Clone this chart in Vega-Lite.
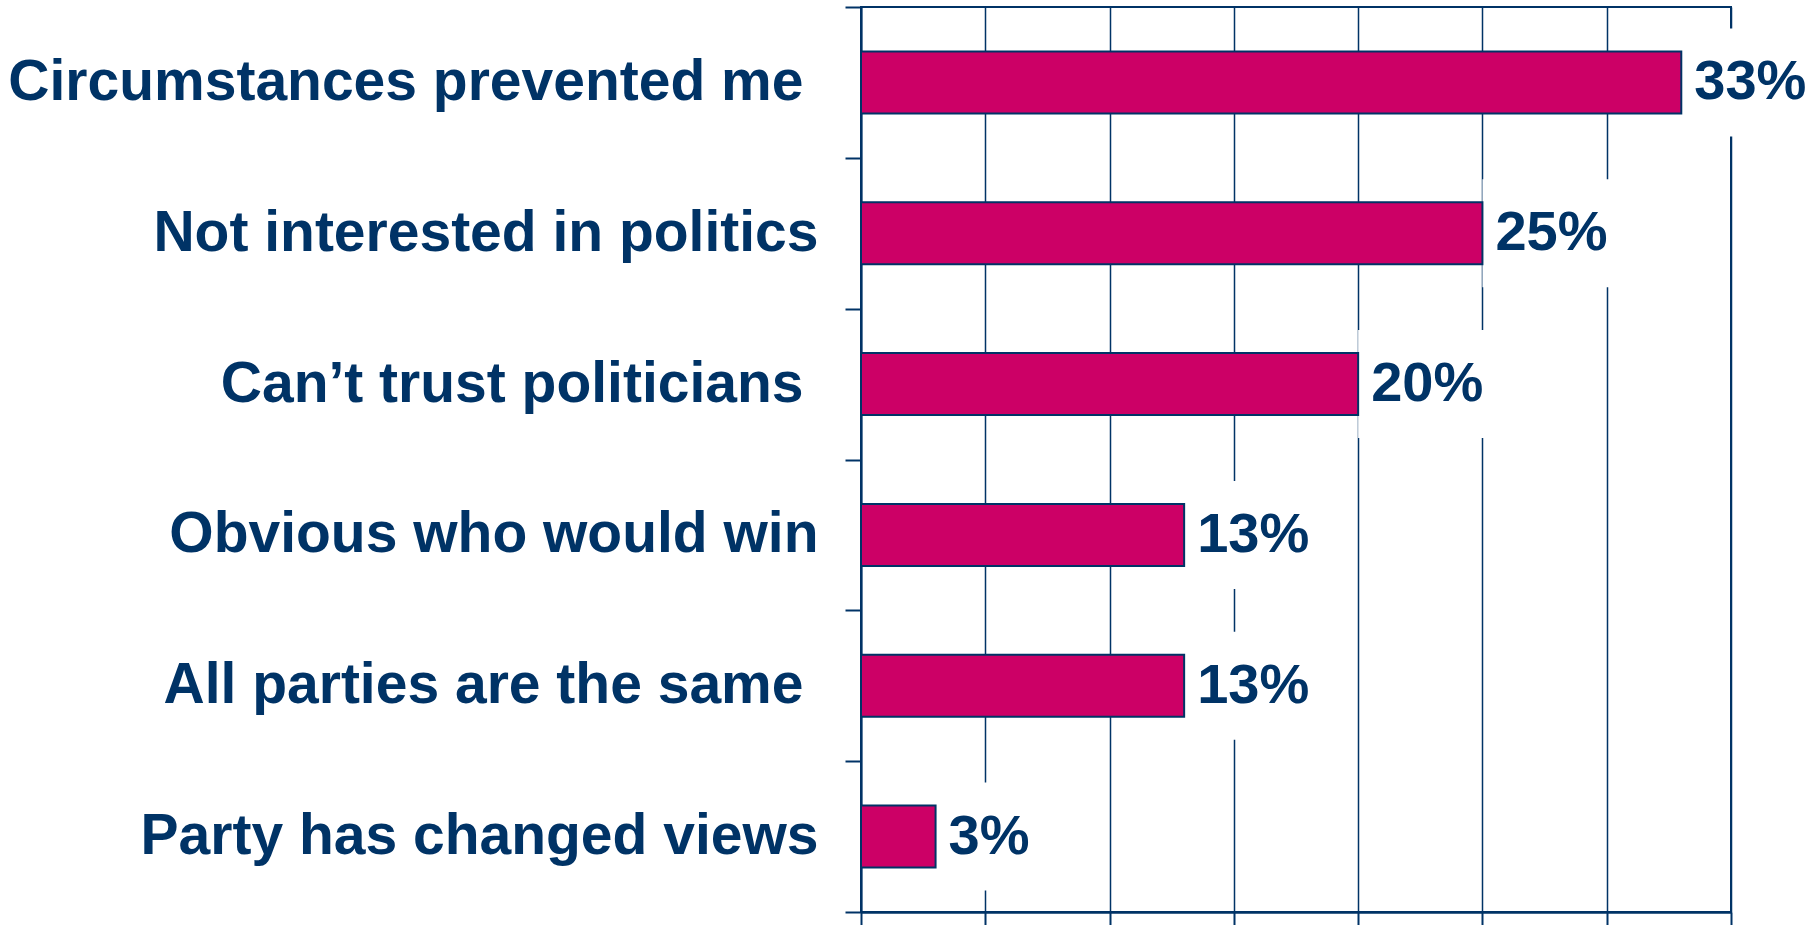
{
  "$schema": "https://vega.github.io/schema/vega-lite/v6.json",
  "width": 870,
  "height": 905,
  "autosize": {"type": "none"},
  "padding": {"left": 861, "top": 7, "right": 89, "bottom": 13},
  "background": "white",
  "config": {"view": {"stroke": "#003366", "strokeWidth": 2}, "font": "Liberation Sans"},
  "data": {
    "values": [
      {"reason": "Circumstances prevented me", "pct": 0.33},
      {"reason": "Not interested in politics", "pct": 0.25},
      {"reason": "Can’t trust politicians", "pct": 0.20},
      {"reason": "Obvious who would win", "pct": 0.13},
      {"reason": "All parties are the same", "pct": 0.13},
      {"reason": "Party has changed views", "pct": 0.03}
    ]
  },
  "encoding": {
    "y": {
      "field": "reason",
      "type": "nominal",
      "sort": null,
      "scale": {"paddingInner": 0, "paddingOuter": 0},
      "axis": {
        "title": null,
        "domainColor": "#003366",
        "domainWidth": 2,
        "tickColor": "#003366",
        "tickWidth": 2,
        "tickSize": 16,
        "tickBand": "extent",
        "labelFontSize": 57,
        "labelFont": "Liberation Sans",
        "labelFontWeight": "bold",
        "labelColor": "#003366",
        "labelPadding": {
          "condition": {
            "test": "datum.value == 'Circumstances prevented me' || datum.value == 'Can’t trust politicians' || datum.value == 'All parties are the same'",
            "value": 42
          },
          "value": 27
        },
        "labelLimit": 0,
        "grid": false
      }
    },
    "x": {
      "field": "pct",
      "type": "quantitative",
      "scale": {"domain": [0, 0.35], "nice": false},
      "axis": {
        "title": null,
        "labels": false,
        "grid": true,
        "gridColor": "#003366",
        "gridWidth": 1.5,
        "gridOpacity": 1,
        "values": [0, 0.05, 0.1, 0.15, 0.2, 0.25, 0.3, 0.35],
        "tickSize": 13,
        "tickColor": "#003366",
        "tickWidth": 2,
        "domainColor": "#003366",
        "domainWidth": 2.5
      }
    }
  },
  "layer": [
    {
      "mark": {"type": "bar", "fill": "white", "stroke": null, "x2Offset": 145, "height": 108},
      "encoding": {"x2": {"field": "pct"}}
    },
    {
      "mark": {"type": "bar", "fill": "#CC0066", "stroke": "#003366", "strokeWidth": 2, "height": 62}
    },
    {
      "mark": {"type": "text", "align": "left", "baseline": "middle", "dx": 13, "fontSize": 56, "fontWeight": "bold", "font": "Liberation Sans", "fill": "#003366"},
      "encoding": {"text": {"field": "pct", "format": ".0%"}}
    }
  ]
}
